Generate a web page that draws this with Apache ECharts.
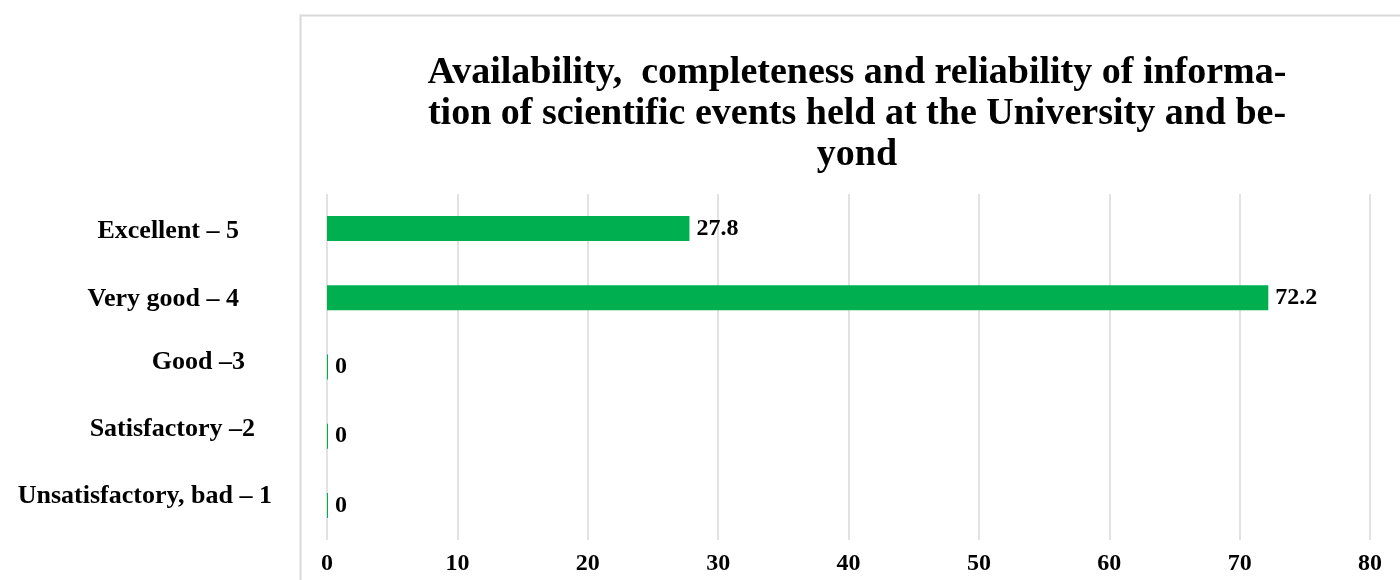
<!DOCTYPE html>
<html>
<head>
<meta charset="utf-8">
<script src="https://cdn.jsdelivr.net/npm/echarts@6/dist/echarts.min.js"></script>
<style>
  html, body { margin: 0; padding: 0; background: #fff; }
  #chart { width: 1400px; height: 580px; }
</style>
</head>
<body>
<div id="chart"></div>
<script>
// Survey grades (top to bottom) and share of respondents, %
const categories = ['Excellent – 5', 'Very good – 4', 'Good –3', 'Satisfactory –2', 'Unsatisfactory, bad – 1'];
const shares = [27.8, 72.2, 0, 0, 0];
const axisMax = 80;
const axisStep = 10;

const titleText = 'Availability,  completeness and reliability of informa-\ntion of scientific events held at the University and be-\nyond';

const serif = '"Liberation Serif", "Times New Roman", serif';

// per-label nudges [downward shift, extra right gap] for the category names
const labelRich = {};
const nudges = [[2.5, 33], [1, 33], [-4.5, 27], [-6.5, 17], [-9.5, 0]];
nudges.forEach(([down, right], i) => {
  labelRich['c' + i] = {
    fontFamily: serif, fontWeight: 'bold', fontSize: 26, color: '#000',
    padding: [Math.max(0, down * 2), right, Math.max(0, -down * 2), 0]
  };
});

const chart = echarts.init(document.getElementById('chart'));
chart.setOption({
  backgroundColor: '#fff',
  animation: false,
  graphic: [{
    type: 'rect',
    left: 298, top: 13,
    shape: { width: 1200, height: 700 },
    style: { fill: 'none', stroke: '#d9d9d9', lineWidth: 2 },
    silent: true, z: -1
  }],
  title: {
    text: titleText,
    left: 852, top: 48,
    textAlign: 'center',
    textStyle: {
      fontFamily: serif, fontWeight: 'bold', fontSize: 38,
      lineHeight: 41, color: '#000'
    }
  },
  grid: { left: 327, right: 30, top: 194, bottom: 40, containLabel: false },
  xAxis: {
    type: 'value',
    min: 0, max: axisMax, interval: axisStep,
    axisLine: { show: false },
    axisTick: { show: false },
    splitLine: { lineStyle: { color: '#d9d9d9', width: 1.5 } },
    axisLabel: {
      margin: 12,
      fontFamily: serif, fontWeight: 'bold', fontSize: 24, color: '#000'
    }
  },
  yAxis: {
    type: 'category',
    data: categories,
    inverse: true,
    axisLine: { show: false },
    axisTick: { show: false },
    axisLabel: {
      margin: 55,
      formatter: (v, i) => '{c' + i + '|' + v + '}',
      rich: labelRich
    }
  },
  series: [{
    type: 'bar',
    data: shares,
    barWidth: 25,
    barMinHeight: 1,
    itemStyle: { color: '#00B050' },
    label: {
      show: true,
      position: 'right',
      distance: 7,
      fontFamily: serif, fontWeight: 'bold', fontSize: 24, color: '#000'
    }
  }]
});
</script>
</body>
</html>
